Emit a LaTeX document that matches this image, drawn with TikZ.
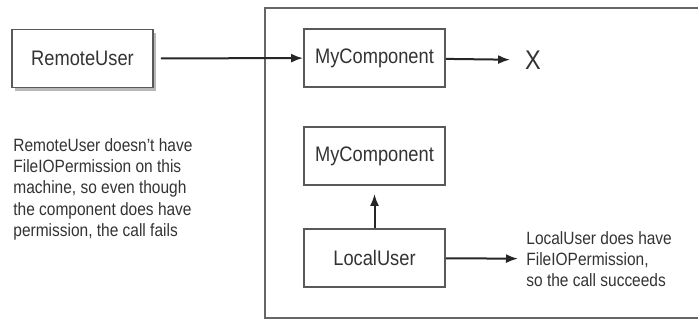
\documentclass[tikz,border=0pt]{standalone}
\usepackage{fontspec}
\setmainfont{Liberation Sans}[FakeStretch=0.87]
\usepackage{tikz}
\usetikzlibrary{arrows.meta,shadows}

\begin{document}
\begin{tikzpicture}
  [x=.5pt,y=-.5pt,auto=center,
   every node/.style={text=black!80,font=\fontsize{10.5}{12}\selectfont},
   box/.style={draw=black!65,line width=.9pt,fill=white,minimum width=70.5pt,minimum height=29pt,inner sep=0pt},
   note/.style={align=left,inner sep=0pt,font=\fontsize{8.9}{10.65}\selectfont},
   link/.style={draw=black!85,line width=1pt,-{Latex[length=6pt,width=4.5pt]}}]
  \useasboundingbox (0,0) rectangle (698,321);

  % machine
  \draw [black!60,line width=1.1pt] (700,8) -| (265,318) -- (700,318);

  \node [box,drop shadow={shadow xshift=1.5pt,shadow yshift=-1.5pt,fill=black!35,opacity=.8}] (remote) at (82.5,58.5) {RemoteUser};
  \node [box] (comp1) at (374.5,58) {MyComponent};
  \node [box] (comp2) at (374.5,156) {MyComponent};
  \node [box] (local) at (374.5,258) {LocalUser};
  \node [font=\fontsize{13.5}{15}\selectfont] (fail) at (533,60) {X};

  \node [note,anchor=north west] (remotenote) at (13,138)
    {RemoteUser doesn't have\\FileIOPermission on this\\machine, so even though\\the component does have\\permission, the call fails};
  \node [note,anchor=west] (localnote) at (526,259)
    {LocalUser does have\\FileIOPermission,\\so the call succeeds};

  \draw [link,shorten <=3.5pt] (remote) -- (comp1);
  \foreach \from/\to in {comp1/fail,local/comp2,local/localnote}
    \draw [link,shorten >=4pt] (\from) -- (\to);

\end{tikzpicture}
\end{document}
